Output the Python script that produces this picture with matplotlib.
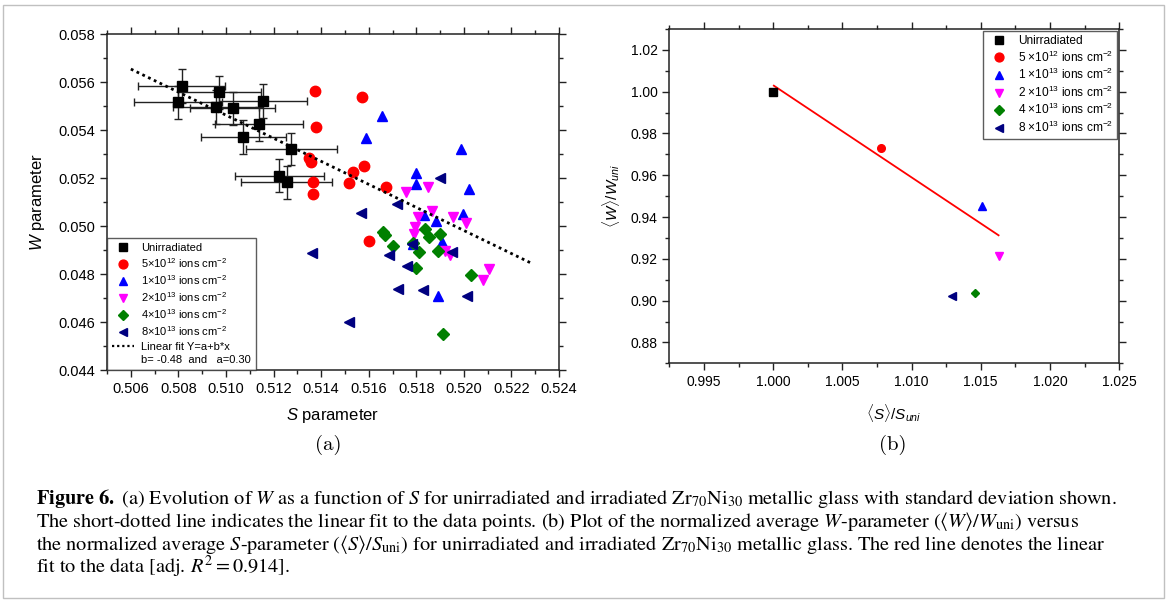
import matplotlib
matplotlib.use("Agg")
import matplotlib.pyplot as plt
from matplotlib.lines import Line2D
from matplotlib.patches import Rectangle
from matplotlib.ticker import MultipleLocator, FormatStrFormatter

plt.rcParams["font.family"] = ["Liberation Sans", "DejaVu Sans"]
plt.rcParams["mathtext.fontset"] = "custom"
plt.rcParams["mathtext.rm"] = "Liberation Sans"
plt.rcParams["mathtext.it"] = "Liberation Sans:italic"
plt.rcParams["mathtext.bf"] = "Liberation Sans:bold"

# ---- panel (a): W vs S ----
uni_s = [0.50814, 0.50972, 0.50800, 0.51154, 0.50958, 0.51028, 0.51138, 0.51073, 0.51275, 0.51223, 0.51255]
uni_w = [0.05583, 0.05557, 0.05515, 0.05521, 0.05495, 0.05490, 0.05424, 0.05372, 0.05320, 0.05210, 0.05182]
uni_s_err = [0.00182, 0.00175, 0.00185, 0.00185, 0.00180, 0.00180, 0.00184, 0.00180, 0.00190, 0.00187, 0.00190]
uni_w_err = [0.00070, 0.00070, 0.00070, 0.00070, 0.00070, 0.00070, 0.00070, 0.00070, 0.00067, 0.00070, 0.00070]

s_5e12 = [0.51374, 0.51573, 0.51379, 0.51350, 0.51357, 0.51582, 0.51535, 0.51365, 0.51518, 0.51673, 0.51365, 0.51601]
w_5e12 = [0.05562, 0.05539, 0.05414, 0.05282, 0.05265, 0.05251, 0.05226, 0.05183, 0.05180, 0.05164, 0.05132, 0.04938]

s_1e13 = [0.51655, 0.51589, 0.51988, 0.51800, 0.51797, 0.52020, 0.51833, 0.51998, 0.51882, 0.51907, 0.51788, 0.51893]
w_1e13 = [0.05458, 0.05365, 0.05322, 0.05220, 0.05176, 0.05153, 0.05045, 0.05050, 0.05021, 0.04932, 0.04924, 0.04708]

s_2e13 = [0.51755, 0.51851, 0.51866, 0.51808, 0.51954, 0.52009, 0.51793, 0.51789, 0.51921, 0.51943, 0.52104, 0.52082]
w_2e13 = [0.05143, 0.05164, 0.05062, 0.05039, 0.05036, 0.05014, 0.04997, 0.04967, 0.04896, 0.04879, 0.04820, 0.04774]

s_4e13 = [0.51661, 0.51668, 0.51702, 0.51838, 0.51852, 0.51901, 0.51813, 0.51893, 0.51785, 0.51798, 0.52030, 0.51914]
w_4e13 = [0.04974, 0.04964, 0.04917, 0.04986, 0.04955, 0.04965, 0.04892, 0.04896, 0.04928, 0.04825, 0.04797, 0.04550]

s_8e13 = [0.51900, 0.51718, 0.51569, 0.51360, 0.51781, 0.51687, 0.51949, 0.51760, 0.51723, 0.51830, 0.52012, 0.51518]
w_8e13 = [0.05201, 0.05092, 0.05053, 0.04889, 0.04925, 0.04880, 0.04892, 0.04833, 0.04738, 0.04735, 0.04708, 0.04599]

fit_s = [0.5060, 0.5229]
fit_w = [0.05654, 0.04842]

# ---- panel (b): normalised averages ----
norm_s = [1.0000, 1.00779, 1.01509, 1.01629, 1.01458, 1.01289]
norm_w = [1.0000, 0.97314, 0.94532, 0.92134, 0.90374, 0.90201]
line_s = [1.00005, 1.01629]
line_w = [1.00288, 0.93127]

labels_a = ["Unirradiated",
            r"5$\times$10$^{12}$ ions cm$^{-2}$",
            r"1$\times$10$^{13}$ ions cm$^{-2}$",
            r"2$\times$10$^{13}$ ions cm$^{-2}$",
            r"4$\times$10$^{13}$ ions cm$^{-2}$",
            r"8$\times$10$^{13}$ ions cm$^{-2}$"]
labels_b = ["Unirradiated",
            r"5 $\times$10$^{12}$ ions cm$^{-2}$",
            r"1 $\times$10$^{13}$ ions cm$^{-2}$",
            r"2 $\times$10$^{13}$ ions cm$^{-2}$",
            r"4 $\times$10$^{13}$ ions cm$^{-2}$",
            r"8 $\times$10$^{13}$ ions cm$^{-2}$"]
colors = ["#000000", "#ff0000", "#0000ff", "#ff00ff", "#008000", "#000080"]
markers = ["s", "o", "^", "v", "D", "<"]
msizes = [7, 7.5, 7.5, 7.5, 6, 7.5]

fig = plt.figure(figsize=(11.7, 6.03), dpi=100)
ax1 = fig.add_axes([0.0915, 0.3864, 0.3863, 0.5572])
ax2 = fig.add_axes([0.5721, 0.3975, 0.3844, 0.5544])

ax1.errorbar(uni_s, uni_w, xerr=uni_s_err, yerr=uni_w_err, fmt="s", color="k",
             ms=7, ecolor="#222222", elinewidth=1, capsize=3, capthick=1, zorder=3)
irr_s = [s_5e12, s_1e13, s_2e13, s_4e13, s_8e13]
irr_w = [w_5e12, w_1e13, w_2e13, w_4e13, w_8e13]
for s, w, c, m, ms in zip(irr_s, irr_w, colors[1:], markers[1:], msizes[1:]):
    ax1.plot(s, w, ls="none", marker=m, color=c, ms=ms, mec=c, zorder=4)
ax1.plot(fit_s, fit_w, color="k", ls=(0, (1, 1.3)), lw=2, zorder=5)

handles = [Line2D([], [], ls="none", marker=m, color=c, ms=ms * 0.85)
           for c, m, ms in zip(colors, markers, msizes)]
h_a = handles + [Line2D([], [], color="k", ls=(0, (1, 1.3)), lw=1.6),
                 Line2D([], [], ls="none")]
l_a = labels_a + ["Linear fit Y=a+b*x", "b= -0.48  and   a=0.30"]
leg = ax1.legend(h_a, l_a, loc="lower left", fontsize=8.0, frameon=True, fancybox=False,
                 edgecolor="#333333", borderaxespad=0, handlelength=2, handletextpad=0.6,
                 labelspacing=0.3, borderpad=0.45)
leg.get_frame().set_linewidth(1)

ax1.set_xlim(0.505, 0.524)
ax1.set_ylim(0.044, 0.058)
ax1.xaxis.set_major_locator(MultipleLocator(0.002))
ax1.xaxis.set_minor_locator(MultipleLocator(0.001))
ax1.yaxis.set_major_locator(MultipleLocator(0.002))
ax1.yaxis.set_minor_locator(MultipleLocator(0.001))
ax1.xaxis.set_major_formatter(FormatStrFormatter("%.3f"))
ax1.yaxis.set_major_formatter(FormatStrFormatter("%.3f"))
ax1.set_xlabel(r"$S$ parameter", fontsize=12, labelpad=7)
ax1.set_ylabel(r"$W$ parameter", fontsize=12, labelpad=8)

for m, c, s, w in zip(markers, colors, norm_s, norm_w):
    ax2.plot([s], [w], ls="none", marker=m, color=c, ms=5.5 if m != "D" else 4.5, zorder=4)
ax2.plot(line_s, line_w, color="#ff0000", lw=1.3, zorder=3)
leg2 = ax2.legend(handles, labels_b, loc="upper right", fontsize=8.6, frameon=True,
                  fancybox=False, edgecolor="#333333", borderaxespad=0.15, handlelength=2,
                  handletextpad=0.6, labelspacing=0.2, borderpad=0.35)
leg2.get_frame().set_linewidth(1)
ax2.set_xlim(0.9925, 1.025)
ax2.set_ylim(0.87, 1.03)
ax2.xaxis.set_major_locator(MultipleLocator(0.005))
ax2.xaxis.set_minor_locator(MultipleLocator(0.0025))
ax2.yaxis.set_major_locator(MultipleLocator(0.02))
ax2.yaxis.set_minor_locator(MultipleLocator(0.01))
ax2.xaxis.set_major_formatter(FormatStrFormatter("%.3f"))
ax2.yaxis.set_major_formatter(FormatStrFormatter("%.2f"))
ax2.set_xlabel(r"$\langle S\rangle/S_{uni}$", fontsize=11, labelpad=9)
ax2.set_ylabel(r"$\langle W\rangle/W_{uni}$", fontsize=11, labelpad=6)

for ax, fs in [(ax1, 10.5), (ax2, 10)]:
    ax.tick_params(which="both", direction="out", top=True, right=True,
                   labelsize=fs, width=1, color="#222222")
    ax.tick_params(which="major", length=5)
    ax.tick_params(which="minor", length=3)
    for sp in ax.spines.values():
        sp.set_linewidth(1.1)
        sp.set_color("#222222")

fig.text(328 / 1170, 1 - 445 / 603, "(a)", family="cmr10", fontsize=15, ha="center", va="center")
fig.text(893 / 1170, 1 - 445 / 603, "(b)", family="cmr10", fontsize=15, ha="center", va="center")

caption = [
    r"$\mathbf{Figure\ 6.}$ (a) Evolution of $W$ as a function of $S$ for unirradiated and irradiated "
    r"Zr$_{70}$Ni$_{30}$ metallic glass with standard deviation shown.",
    r"The short-dotted line indicates the linear fit to the data points. (b) Plot of the normalized "
    r"average $W$-parameter ($\langle W\rangle/W_{\mathrm{uni}}$) versus",
    r"the normalized average $S$-parameter ($\langle S\rangle/S_{\mathrm{uni}}$) for unirradiated and "
    r"irradiated Zr$_{70}$Ni$_{30}$ metallic glass. The red line denotes the linear",
    r"fit to the data [adj. $R^2 = 0.914$].",
]
for i, line in enumerate(caption):
    fig.text(36 / 1170, 1 - (504 + 23 * i) / 603, line, family="STIXGeneral",
             math_fontfamily="stix", fontsize=14.6, ha="left", va="baseline")

fig.patches.append(Rectangle((3 / 1170, 5 / 603), 1161 / 1170, 593 / 603,
                             transform=fig.transFigure, fill=False,
                             edgecolor="#c0c0c0", linewidth=1))

fig.savefig("out.png", dpi=100)
